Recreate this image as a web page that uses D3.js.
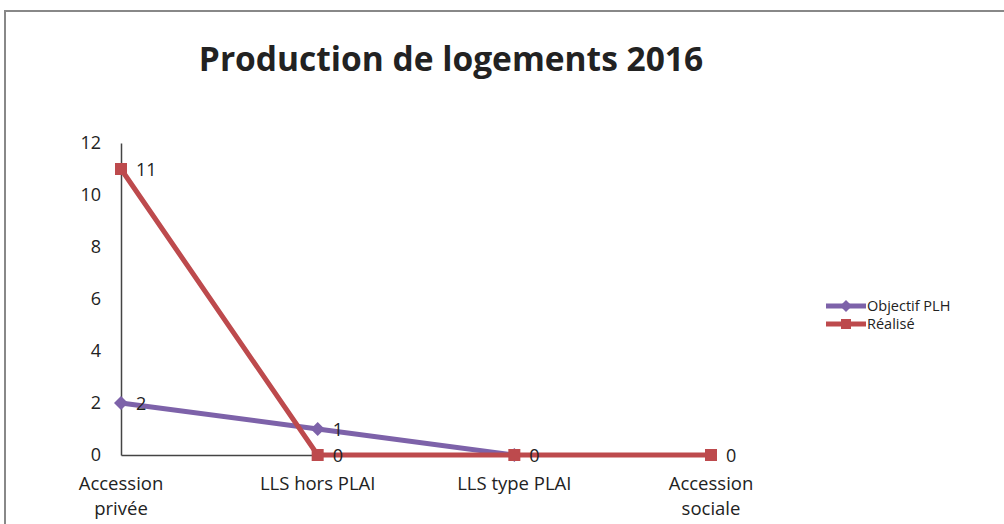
<!doctype html>
<html>
<head>
<meta charset="utf-8">
<script src="https://cdn.jsdelivr.net/npm/d3@7"></script>
<style>
  body { margin: 0; background: #fff; }
  text { font-family: "Open Sans", sans-serif; fill: #222; }
</style>
</head>
<body>
<svg width="1004" height="524"></svg>
<script>
// data
var categories = ["Accession privée", "LLS hors PLAI", "LLS type PLAI", "Accession sociale"];
var objectif = [2, 1, 0, null];
var realise = [11, 0, 0, 0];
var yTicks = [0, 2, 4, 6, 8, 10, 12];
var seriesNames = ["Objectif PLH", "Réalisé"];

var svg = d3.select("svg");

// frame
svg.append("rect")
   .attr("x", 5).attr("y", 11)
   .attr("width", 1010).attr("height", 530)
   .attr("fill", "none")
   .attr("stroke", "#888")
   .attr("stroke-width", 2);

svg.append("text")
   .attr("x", 451)
   .attr("y", 71)
   .attr("text-anchor", "middle")
   .attr("font-size", "33.5px")
   .attr("font-weight", "bold")
   .text("Production de logements 2016");

var x = d3.scalePoint().domain(categories).range([121, 711]),
    y = d3.scaleLinear().domain([0, 12]).range([455, 143]);

// axes
var yAxis = svg.append("g")
   .attr("transform", "translate(121,0)")
   .call(d3.axisLeft(y).tickValues(yTicks).tickSize(0).tickPadding(20));
yAxis.select(".domain").attr("stroke", "#444").attr("stroke-width", 1.5);
yAxis.selectAll("text").attr("font-size", "18px").attr("fill", "#222");

var xAxis = svg.append("g")
   .attr("transform", "translate(0,455)")
   .call(d3.axisBottom(x).tickSize(0).tickFormat(""));
xAxis.select(".domain").attr("stroke", "#444").attr("stroke-width", 1.5);

// category labels (wrapped like Excel)
var wrap = {
  "Accession privée": ["Accession", "privée"],
  "LLS hors PLAI": ["LLS hors PLAI"],
  "LLS type PLAI": ["LLS type PLAI"],
  "Accession sociale": ["Accession", "sociale"]
};
categories.forEach(function(c) {
  var t = svg.append("text")
     .attr("x", x(c))
     .attr("y", 490)
     .attr("text-anchor", "middle")
     .attr("font-size", "18.5px");
  wrap[c].forEach(function(line, i) {
    t.append("tspan").attr("x", x(c)).attr("dy", i ? 25 : 0).text(line);
  });
});

var purple = "#7d62a9", red = "#bd4a4d";

var line = d3.line()
   .defined(function(d) { return d != null; })
   .x(function(d, i) { return x(categories[i]); })
   .y(function(d) { return y(d); });

// Objectif PLH (drawn first, Réalisé sits on top)
svg.append("path")
   .datum(objectif)
   .attr("d", line)
   .attr("fill", "none")
   .attr("stroke", purple)
   .attr("stroke-width", 5);

svg.selectAll(".dia")
   .data(objectif.filter(function(d) { return d != null; }))
   .enter().append("path")
   .attr("d", "M0,-7L7,0L0,7L-7,0Z")
   .attr("transform", function(d, i) { return "translate(" + x(categories[i]) + "," + y(d) + ")"; })
   .attr("fill", purple);

// Réalisé
svg.append("path")
   .datum(realise)
   .attr("d", line)
   .attr("fill", "none")
   .attr("stroke", red)
   .attr("stroke-width", 5);

svg.selectAll(".sq")
   .data(realise)
   .enter().append("rect")
   .attr("x", function(d, i) { return x(categories[i]) - 6; })
   .attr("y", function(d) { return y(d) - 6; })
   .attr("width", 12).attr("height", 12)
   .attr("fill", red);

// data labels
svg.selectAll(".lr")
   .data(realise)
   .enter().append("text")
   .attr("x", function(d, i) { return x(categories[i]) + 15; })
   .attr("y", function(d) { return y(d) + 7; })
   .attr("font-size", "18px")
   .text(function(d) { return d; });

svg.selectAll(".lo")
   .data(objectif.filter(function(d) { return d != null; }))
   .enter().append("text")
   .attr("x", function(d, i) { return x(categories[i]) + 15; })
   .attr("y", function(d) { return y(d) + 7; })
   .attr("font-size", "18px")
   .text(function(d, i) { return i < 2 ? d : ""; });

// legend
var colors = [purple, red];
seriesNames.forEach(function(n, i) {
  var ly = 306 + i * 18;
  svg.append("line")
     .attr("x1", 826).attr("x2", 866)
     .attr("y1", ly).attr("y2", ly)
     .attr("stroke", colors[i]).attr("stroke-width", 5);
  if (i == 0) {
    svg.append("path")
       .attr("d", "M0,-6L6,0L0,6L-6,0Z")
       .attr("transform", "translate(846," + ly + ")")
       .attr("fill", colors[i]);
  } else {
    svg.append("rect")
       .attr("x", 841).attr("y", ly - 5)
       .attr("width", 10).attr("height", 10)
       .attr("fill", colors[i]);
  }
  svg.append("text")
     .attr("x", 867).attr("y", ly + 5)
     .attr("font-size", "14.5px")
     .text(n);
});
</script>
</body>
</html>
